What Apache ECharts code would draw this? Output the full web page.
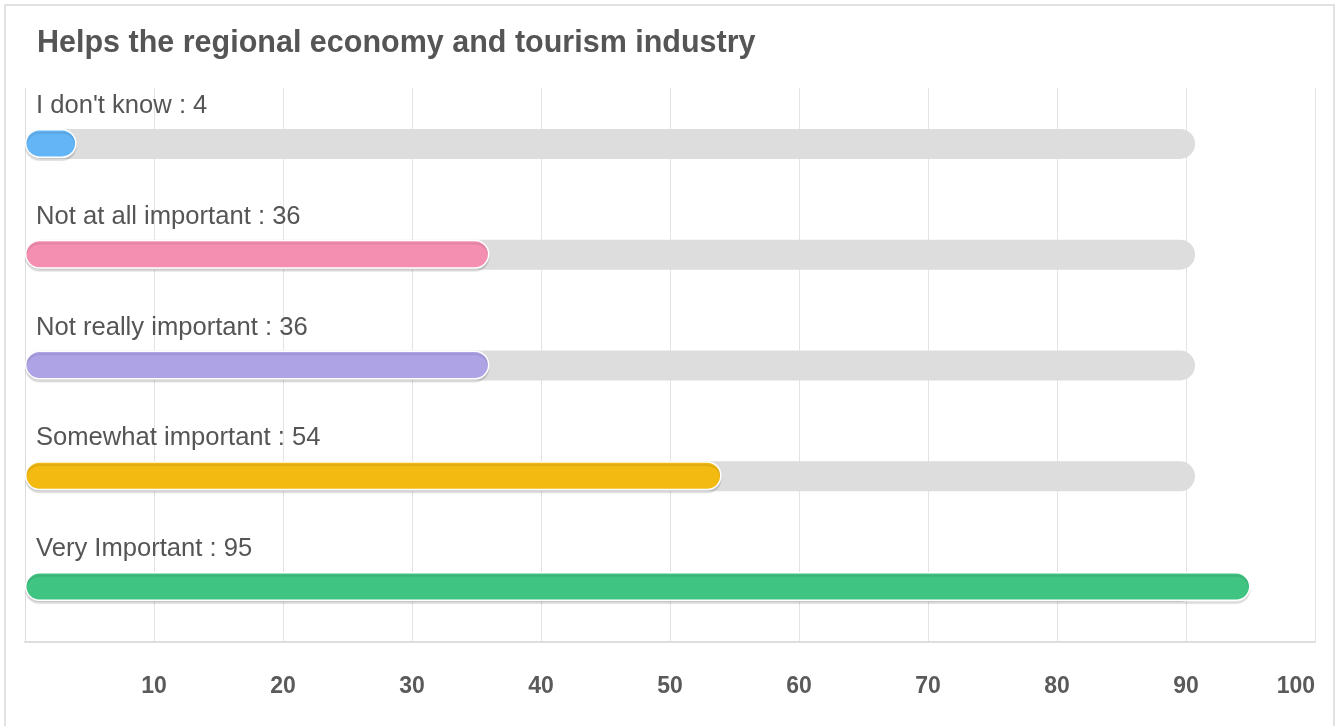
<!DOCTYPE html>
<html>
<head>
<meta charset="utf-8">
<script src="https://cdn.jsdelivr.net/npm/echarts@6/dist/echarts.min.js"></script>
<style>
html,body{margin:0;padding:0;background:#fff;}
#card{position:absolute;left:4px;top:4px;width:1331px;height:760px;border:2px solid #e2e2e2;box-sizing:border-box;}
#chart{position:absolute;left:0;top:0;width:1338px;height:726px;}
</style>
</head>
<body>
<div id="card"></div>
<div id="chart"></div>
<script>
const title = "Helps the regional economy and tourism industry";
const categories = ["I don't know", "Not at all important", "Not really important", "Somewhat important", "Very Important"];
const values = [4, 36, 36, 54, 95];
const barColors = ["#64B5F6", "#F48FB1", "#ADA3E5", "#F3BA12", "#40C482"];
const trackValues = [90.7, 90.7, 90.7, 90.7, 90.7];
const xTicks = [0, 10, 20, 30, 40, 50, 60, 70, 80, 90, 100];

const chart = echarts.init(document.getElementById('chart'), null, {renderer: 'canvas'});
chart.setOption({
  animation: false,
  backgroundColor: 'transparent',
  title: {
    text: title, left: 37, top: 28, padding: 0,
    textStyle: {fontFamily: 'Liberation Sans, Arial, sans-serif', fontSize: 30.5, fontWeight: 'bold', color: '#555555'}
  },
  grid: {left: 25, right: 23, top: 88, bottom: 84, containLabel: false},
  xAxis: {
    type: 'value', min: xTicks[0], max: xTicks[xTicks.length - 1], interval: 10,
    axisLine: {show: true, lineStyle: {color: '#dedede', width: 2}},
    axisTick: {show: false},
    splitLine: {show: true, lineStyle: {color: '#e3e3e3', width: 1}},
    axisLabel: {
      showMinLabel: false, margin: 33, alignMaxLabel: 'right',
      fontFamily: 'Liberation Sans, Arial, sans-serif', fontSize: 23, fontWeight: 'bold', color: '#5a5a5a'
    }
  },
  yAxis: {
    type: 'category', data: categories, inverse: true,
    axisLine: {show: true, lineStyle: {color: '#dddddd', width: 1}},
    axisTick: {show: false}, axisLabel: {show: false}, splitLine: {show: false}
  },
  series: [
    {
      type: 'bar', data: trackValues, barWidth: 30, silent: true, z: 1,
      itemStyle: {color: '#dddddd', borderRadius: 15}
    },
    {
      type: 'bar', barGap: '-100%', barWidth: 29, z: 2,
      data: values.map((v, i) => ({value: v, itemStyle: {color: barColors[i]}})),
      itemStyle: {
        borderRadius: 15, borderColor: '#ffffff', borderWidth: 1.5,
        shadowColor: 'rgba(0,0,0,0.10)', shadowBlur: 1, shadowOffsetY: 3
      },
      label: {
        show: true, position: [11, -36],
        formatter: p => p.name + ' : ' + p.value,
        fontFamily: 'Liberation Sans, Arial, sans-serif', fontSize: 25.6, color: '#555555'
      }
    }
  ]
});
</script>
</body>
</html>
